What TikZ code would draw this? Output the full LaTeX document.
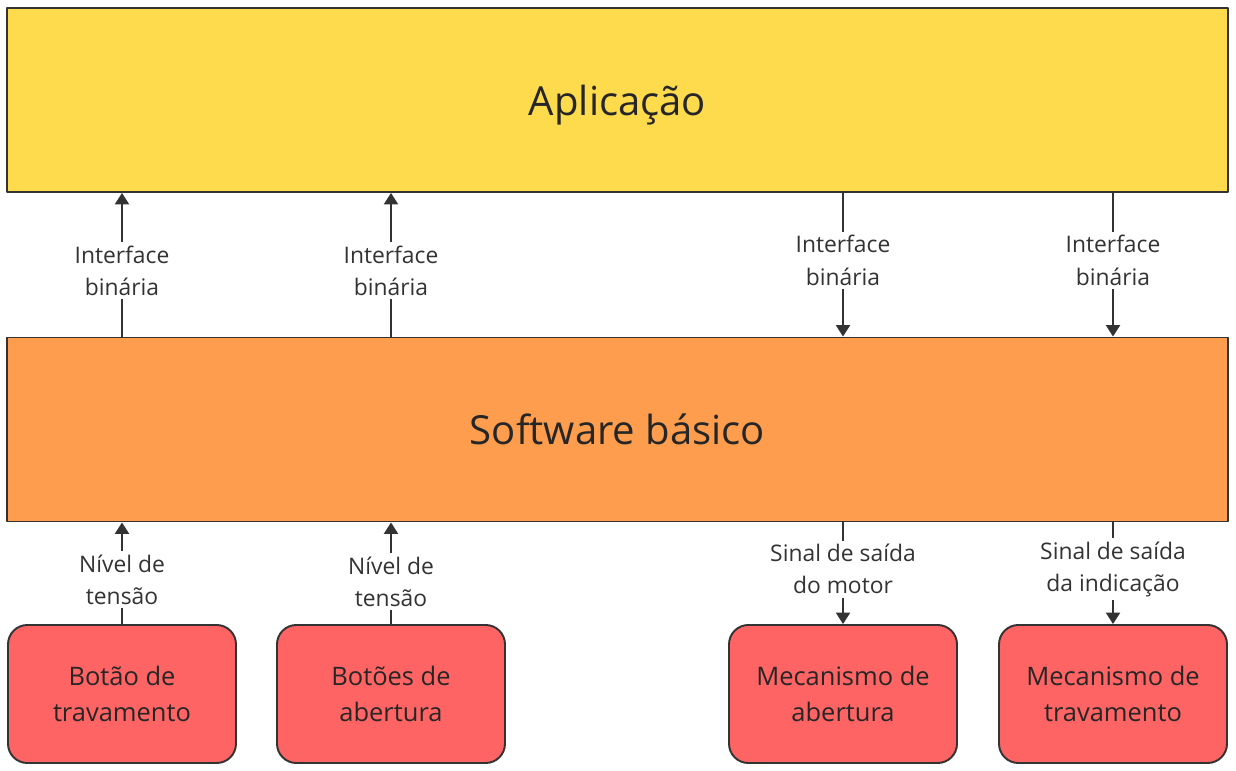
\documentclass[tikz,border=0pt]{standalone}
\usepackage{fontspec}
\setmainfont{Open Sans}
\usetikzlibrary{arrows.meta}
\definecolor{appyellow}{HTML}{FEDB4D}
\definecolor{swOrange}{HTML}{FE9D4D}
\definecolor{devRed}{HTML}{FF6464}
\definecolor{lineGray}{HTML}{333333}
\begin{document}
\begin{tikzpicture}[x=0.02cm, y=-0.02cm, line join=round, >={Triangle[length=6.5pt,width=8pt]},
  layer/.style={draw=lineGray, line width=1.1pt, minimum width=1221*0.02cm, minimum height=184*0.02cm,
    inner sep=0pt, font=\fontsize{22.8}{27}\selectfont, text=black!85},
  device/.style={draw=lineGray, line width=1.1pt, fill=devRed, rounded corners=11pt,
    minimum width=228*0.02cm, minimum height=138*0.02cm, inner sep=0pt, align=center,
    font=\fontsize{14.5}{20}\selectfont, text=black!85},
  link/.style={lineGray, line width=1.1pt},
  lbl/.style={fill=white, align=center, inner sep=2pt, text=lineGray, font=\fontsize{13}{18.3}\selectfont}]
\useasboundingbox (0,0) rectangle (1236,770);
% camadas
\node[layer, fill=appyellow] (app) at (617.5,100) {\raisebox{-2.8pt}[\height][\depth]{Aplicação}};
\node[layer, fill=swOrange] (soft) at (617.5,429.5) {Software básico};
% dispositivos
\node[device] (b1) at (122,694) {Botão de\\travamento};
\node[device] (b2) at (391,694) {Botões de\\abertura};
\node[device] (b3) at (843,694) {Mecanismo de\\abertura};
\node[device] (b4) at (1113,694) {Mecanismo de\\travamento};
% interfaces binarias
\draw[link,->] (soft.north -| b1) -- node[lbl, pos=0.46] {Interface\\binária} (app.south -| b1);
\draw[link,->] (soft.north -| b2) -- node[lbl, pos=0.46] {Interface\\binária} (app.south -| b2);
\draw[link,->] (app.south -| b3) -- node[lbl, pos=0.47] {Interface\\binária} (soft.north -| b3);
\draw[link,->] (app.south -| b4) -- node[lbl, pos=0.47] {Interface\\binária} (soft.north -| b4);
% sinais
\draw[link,->] (b1) ++(0,-69) coordinate (t1) (t1) -- node[lbl, pos=0.44] {Nível de\\tensão} (soft.south -| b1);
\draw[link,->] (b2) ++(0,-69) coordinate (t2) (t2) -- node[lbl, pos=0.42] {Nível de\\tensão} (soft.south -| b2);
\draw[link,->] (soft.south -| b3) -- node[lbl, pos=0.46] {Sinal de saída\\do motor} (b3.north);
\draw[link,->] (soft.south -| b4) -- node[lbl, pos=0.46] {Sinal de saída\\da indicação} (b4.north);
\end{tikzpicture}
\end{document}
